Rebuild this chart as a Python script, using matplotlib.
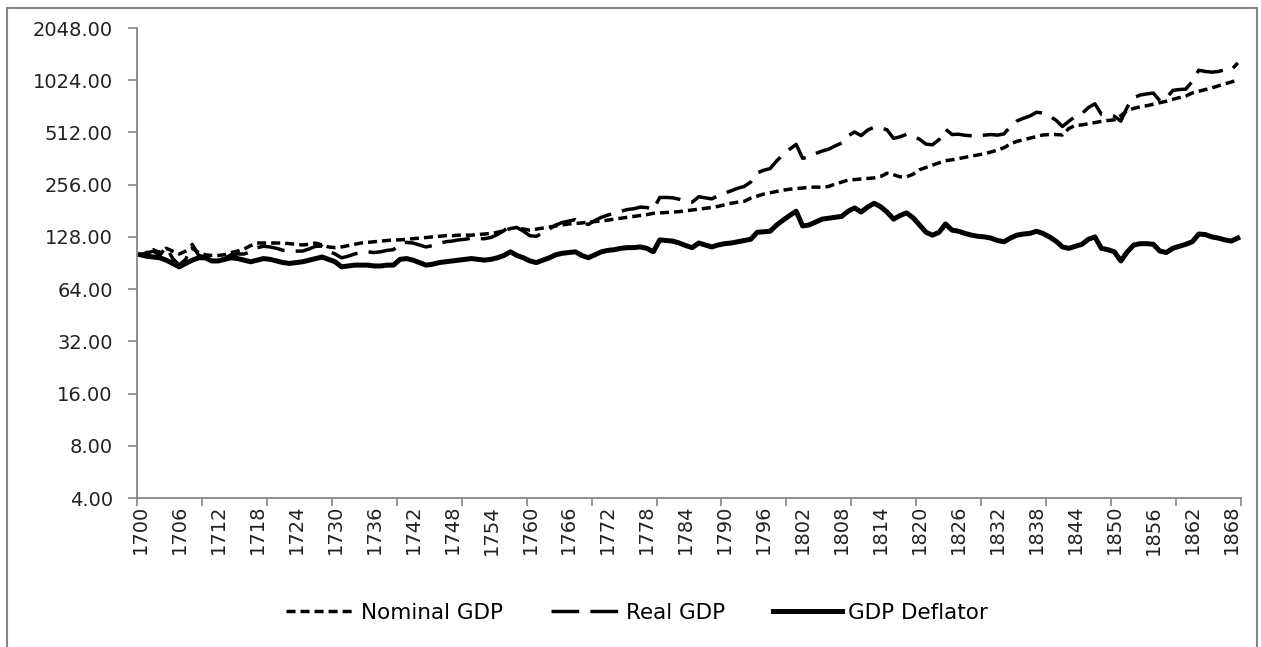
import numpy as np
import matplotlib
matplotlib.use("Agg")
import matplotlib.pyplot as plt
from matplotlib.patches import Rectangle
from matplotlib.ticker import FixedLocator, NullFormatter, FixedFormatter

"""GDP series 1700-1869 on a log2 scale, values read off the original chart"""
years = list(range(1700, 1870))

# short dashed line (labelled Nominal GDP in the legend)
nominal_gdp = [
    100, 104, 108, 104, 110, 106, 102, 106, 110, 104,
    101, 100, 100, 101, 104, 106, 109, 114, 118, 118,
    118, 118, 118, 117, 116, 115, 116, 118, 115, 112,
    111, 112, 114, 116, 118, 119, 120, 121, 122, 123,
    123, 124, 125, 126, 127, 128, 129, 130, 130, 131,
    131, 131, 132, 133, 134, 136, 139, 143, 145, 142,
    140, 142, 144, 146, 148, 150, 152, 153, 154, 156,
    157, 158, 160, 162, 164, 166, 168, 170, 172, 175,
    176, 177, 178, 179, 181, 183, 185, 187, 189, 192,
    196, 200, 203, 205, 214, 220, 226, 230, 234, 238,
    241, 243, 245, 247, 248, 247, 250, 258, 265, 272,
    274, 276, 278, 280, 285, 298, 292, 284, 284, 294,
    312, 322, 332, 342, 352, 356, 362, 368, 374, 380,
    386, 395, 405, 418, 440, 455, 465, 475, 485, 495,
    498, 498, 495, 540, 562, 566, 575, 585, 593, 600,
    605, 640, 685, 705, 720, 730, 745, 760, 775, 795,
    812, 830, 865, 885, 905, 925, 950, 975, 1000, 1030,
]

# long dashed line (labelled Real GDP in the legend)
real_gdp = [
    101, 103, 106, 100, 112, 96, 88, 95, 116, 100,
    98, 93, 94, 96, 101, 102, 102, 105, 111, 113,
    112, 110, 107, 106, 106, 106, 109, 113, 113, 106,
    102, 97, 99, 102, 104, 105, 104, 105, 107, 108,
    117, 119, 118, 115, 112, 114, 117, 120, 121, 123,
    124, 126, 125, 125, 127, 132, 139, 150, 145, 138,
    130, 129, 135, 142, 150, 155, 158, 161, 154, 151,
    159, 166, 171, 175, 180, 184, 186, 190, 189, 184,
    216, 216, 215, 211, 206, 203, 218, 215, 212, 221,
    229, 236, 244, 250, 265, 299, 310, 317, 351, 381,
    410, 437, 363, 370, 387, 400, 410, 428, 445, 490,
    515, 491, 528, 549, 544, 530, 473, 483, 500, 485,
    468, 438, 435, 465, 535, 498, 500, 493, 490, 490,
    494, 498, 494, 502, 554, 596, 618, 637, 669, 663,
    637, 603, 554, 594, 635, 657, 713, 749, 652, 648,
    635, 595, 719, 811, 842, 854, 864, 780, 806, 895,
    905, 910, 1010, 1170, 1150, 1140, 1150, 1175, 1170, 1290,
]

# solid line
gdp_deflator = [
    101, 99, 98, 97, 94, 90, 86, 90, 94, 97,
    97, 93, 93, 95, 97, 96, 94, 92, 94, 96,
    95, 93, 91, 90, 91, 92, 94, 96, 98, 95,
    92, 86, 87, 88, 88, 88, 87, 87, 88, 88,
    95, 96, 94, 91, 88, 89, 91, 92, 93, 94,
    95, 96, 95, 94, 95, 97, 100, 105, 100, 97,
    93, 91, 94, 97, 101, 103, 104, 105, 100, 97,
    101, 105, 107, 108, 110, 111, 111, 112, 110, 105,
    123, 122, 121, 118, 114, 111, 118, 115, 112, 115,
    117, 118, 120, 122, 124, 136, 137, 138, 150, 160,
    170, 180, 148, 150, 156, 162, 164, 166, 168, 180,
    188, 178, 190, 200, 191, 178, 162, 170, 176, 165,
    150, 136, 131, 136, 152, 140, 138, 134, 131, 129,
    128, 126, 122, 120, 126, 131, 133, 134, 138, 134,
    128, 121, 112, 110, 113, 116, 124, 128, 110, 108,
    105, 93, 105, 115, 117, 117, 116, 106, 104, 110,
    113, 116, 120, 133, 132, 128, 126, 123, 121, 126,
]

y_ticks = [4, 8, 16, 32, 64, 128, 256, 512, 1024, 2048]
label_years = list(range(1700, 1870, 6))
series_names = ["Nominal GDP", "Real GDP", "GDP Deflator"]

plt.rcParams["font.family"] = ["DejaVu Sans"]
plt.rcParams["lines.scale_dashes"] = False

W, H = 1261, 647
fig = plt.figure(figsize=(W / 100, H / 100), dpi=100)

# axes box in pixel coordinates (top-down)
left, right, top, bottom = 137, 1241, 28, 498
ax = fig.add_axes([left / W, 1 - bottom / H, (right - left) / W, (bottom - top) / H])

ax.plot(years, nominal_gdp, color="black", lw=2.5, dashes=(6.5, 3.6),
        dash_capstyle="butt", label=series_names[0])
ax.plot(years, real_gdp, color="black", lw=2.5, dashes=(20, 8),
        dash_capstyle="butt", label=series_names[1])
ax.plot(years, gdp_deflator, color="black", lw=3.6, solid_joinstyle="round",
        label=series_names[2])

ax.set_yscale("log", base=2)
ax.set_ylim(4, 2048)
ax.yaxis.set_major_locator(FixedLocator(y_ticks))
ax.yaxis.set_major_formatter(FixedFormatter([f"{v:.2f}" for v in y_ticks]))
ax.yaxis.set_minor_locator(FixedLocator([]))
ax.yaxis.set_minor_formatter(NullFormatter())

# category axis: tick marks every 10 years, labels every 6 years
ax.set_xlim(years[0] - 0.5, years[-1] + 0.5)
ax.xaxis.set_major_locator(FixedLocator(np.arange(years[0] - 0.5, years[-1] + 1, 10)))
ax.xaxis.set_major_formatter(NullFormatter())
ax.xaxis.set_minor_locator(FixedLocator(label_years))
ax.xaxis.set_minor_formatter(FixedFormatter([str(y) for y in label_years]))

grey = "#868686"
for side in ["top", "right"]:
    ax.spines[side].set_visible(False)
for side in ["left", "bottom"]:
    ax.spines[side].set_color(grey)
    ax.spines[side].set_linewidth(1.3)

ax.tick_params(axis="y", which="major", direction="out", length=6.5, width=1.2,
               color=grey, labelsize=14, pad=11, labelcolor="#222222")
ax.tick_params(axis="x", which="major", direction="out", length=5.5, width=1.2,
               color=grey)
ax.tick_params(axis="x", which="minor", length=0, labelsize=14, pad=5,
               labelrotation=90, labelcolor="#222222")

fig.legend(loc="center", bbox_to_anchor=(637 / W, 1 - 613 / H), ncol=3,
           frameon=False, fontsize=15.5, handlelength=3.2, columnspacing=2.2,
           handletextpad=0.3)

# outer chart border
fig.patches.append(Rectangle((7 / W, -0.05), (1257 - 7) / W, 1.05 - 8 / H,
                             transform=fig.transFigure, fill=False,
                             edgecolor=grey, linewidth=1.5))

fig.savefig("out.png", dpi=100)
